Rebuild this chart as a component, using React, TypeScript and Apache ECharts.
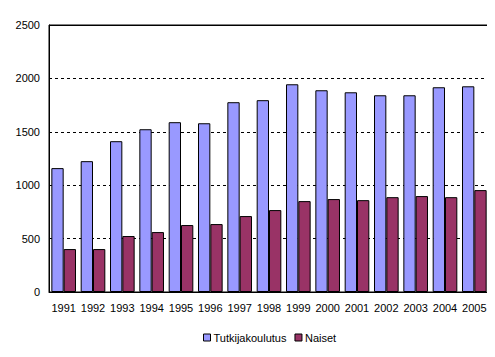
import React, { useEffect, useRef } from "react";
import * as echarts from "echarts";

const years = ["1991", "1992", "1993", "1994", "1995", "1996", "1997", "1998", "1999", "2000", "2001", "2002", "2003", "2004", "2005"];
const tutkijakoulutus = [1160, 1225, 1412, 1524, 1590, 1580, 1777, 1796, 1945, 1889, 1870, 1842, 1842, 1917, 1926];
const naiset = [402, 402, 524, 561, 627, 636, 711, 767, 851, 870, 860, 888, 898, 888, 954];
const yMax = 2500;

const FONT = "Liberation Sans, Arial, sans-serif";

export default function App() {
  const ref = useRef<HTMLDivElement>(null);
  useEffect(() => {
    if (!ref.current) return;
    const chart = echarts.init(ref.current, undefined, { renderer: "svg" });
    chart.setOption({
      animation: false,
      backgroundColor: "#ffffff",
      textStyle: { fontFamily: FONT },
      grid: {
        left: 49,
        right: 6,
        top: 25,
        bottom: 65,
        show: true,
        borderColor: "#000",
        borderWidth: 1,
        backgroundColor: "transparent",
      },
      legend: {
        bottom: 9,
        left: 198,
        itemWidth: 7,
        itemHeight: 7,
        itemGap: 8,
        icon: "rect",
        textStyle: { fontFamily: FONT, fontSize: 11, color: "#000", padding: [0, 0, 0, -2] },
        data: [
          { name: "Tutkijakoulutus", itemStyle: { borderColor: "#000", borderWidth: 1 } },
          { name: "Naiset", itemStyle: { borderColor: "#000", borderWidth: 1 } },
        ],
      },
      xAxis: {
        type: "category",
        data: years,
        axisLine: { show: true, lineStyle: { color: "#000" } },
        axisTick: { show: false },
        axisLabel: { color: "#000", fontSize: 11, fontFamily: FONT, margin: 10, interval: 0 },
      },
      yAxis: {
        type: "value",
        min: 0,
        max: yMax,
        interval: 500,
        axisLine: { show: true, lineStyle: { color: "#000" } },
        axisTick: { show: false },
        axisLabel: { color: "#000", fontSize: 11, fontFamily: FONT, margin: 9, formatter: (v: number) => String(v) },
        splitLine: { show: true, lineStyle: { color: "#000", type: [3, 3], width: 1 } },
      },
      series: [
        {
          name: "Tutkijakoulutus",
          type: "bar",
          data: tutkijakoulutus,
          barGap: "0%",
          barCategoryGap: "16%",
          itemStyle: { color: "#9999FF", borderColor: "#000", borderWidth: 1 },
          markLine: {
            silent: true,
            symbol: "none",
            label: { show: false },
            lineStyle: { color: "#000", type: "solid", width: 1 },
            data: [{ yAxis: yMax }],
          },
        },
        {
          name: "Naiset",
          type: "bar",
          data: naiset,
          itemStyle: { color: "#993366", borderColor: "#000", borderWidth: 1 },
        },
      ],
    });
    return () => chart.dispose();
  }, []);
  return <div ref={ref} style={{ width: 495, height: 357, marginLeft: -8, marginTop: -8 }} />;
}
